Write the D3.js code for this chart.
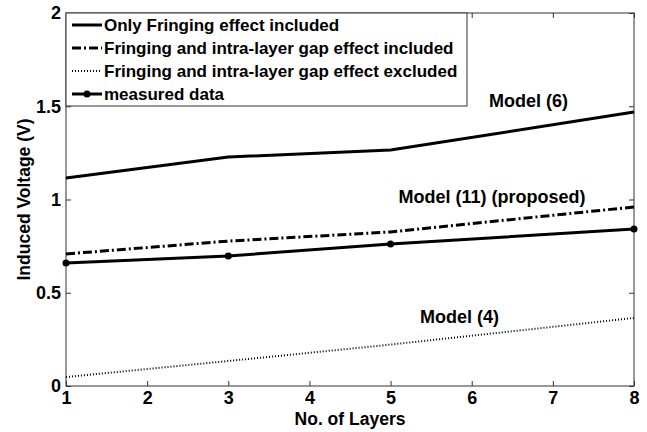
<!DOCTYPE html>
<html>
<head>
<meta charset="utf-8">
<script src="https://cdn.jsdelivr.net/npm/d3@7"></script>
<style>
  body { margin: 0; background: #fff; }
  svg text { font-family: Arial, "Liberation Sans", sans-serif; font-weight: bold; fill: #000; }
</style>
</head>
<body>
<svg id="chart" width="647" height="432"></svg>
<script>
// data
const layers = [1, 3, 5, 8];
const model6 = [1.115, 1.228, 1.265, 1.469];
const model11 = [0.708, 0.777, 0.826, 0.96];
const model4 = [0.048, 0.134, 0.222, 0.365];
const measured = [0.66, 0.697, 0.761, 0.842];
const xTicks = [1, 2, 3, 4, 5, 6, 7, 8];
const yTicks = [0, 0.5, 1, 1.5, 2];
const legendLabels = [
  'Only Fringing effect included',
  'Fringing and intra-layer gap effect included',
  'Fringing and intra-layer gap effect excluded',
  'measured data'
];

const svg = d3.select('#chart');
const m = { left: 66, right: 13, top: 13, bottom: 46 };
const W = 647, H = 432;

const x = d3.scaleLinear().domain([1, 8]).range([m.left, W - m.right]);
const y = d3.scaleLinear().domain([0, 2]).range([H - m.bottom, m.top]);

const series = [
  { key: 'm6', values: model6, width: 3, dash: null },
  { key: 'm11', values: model11, width: 3, dash: '9,3,2,3' },
  { key: 'm4', values: model4, width: 2, dash: '1,2' },
  { key: 'meas', values: measured, width: 3, dash: null, marker: true }
];

const line = d3.line().x(d => x(d.x)).y(d => y(d.y));

// frame
svg.append('rect')
  .attr('x', x(1)).attr('y', y(2))
  .attr('width', x(8) - x(1)).attr('height', y(0) - y(2))
  .attr('fill', 'none').attr('stroke', '#333').attr('stroke-width', 1);

// axes with inward ticks
const tk = 5;
svg.append('g').attr('transform', `translate(0,${y(0)})`)
  .call(d3.axisBottom(x).tickValues(xTicks).tickSize(-tk).tickPadding(5).tickFormat(d3.format('d')))
  .call(g => g.select('.domain').remove());
svg.append('g').attr('transform', `translate(0,${y(2)})`)
  .call(d3.axisTop(x).tickValues(xTicks).tickSize(-tk).tickFormat(''))
  .call(g => g.select('.domain').remove());
svg.append('g').attr('transform', `translate(${x(1)},0)`)
  .call(d3.axisLeft(y).tickValues(yTicks).tickSize(-tk).tickPadding(5).tickFormat(d => d3.format('')(d)))
  .call(g => g.select('.domain').remove());
svg.append('g').attr('transform', `translate(${x(8)},0)`)
  .call(d3.axisRight(y).tickValues(yTicks).tickSize(-tk).tickFormat(''))
  .call(g => g.select('.domain').remove());
svg.selectAll('.tick line').attr('stroke', '#333');
svg.selectAll('.tick text').style('font-size', '18px').style('font-weight', 'bold')
  .style('font-family', 'Arial, "Liberation Sans", sans-serif').attr('fill', '#000');

// lines
series.forEach(s => {
  const pts = layers.map((l, i) => ({ x: l, y: s.values[i] }));
  svg.append('path').datum(pts)
    .attr('d', line)
    .attr('fill', 'none').attr('stroke', '#000')
    .attr('stroke-width', s.width)
    .attr('stroke-dasharray', s.dash);
  if (s.marker) {
    svg.append('g').selectAll('circle').data(pts).join('circle')
      .attr('cx', d => x(d.x)).attr('cy', d => y(d.y)).attr('r', 3.5)
      .attr('fill', '#000');
  }
});

// annotations
const notes = [
  { text: 'Model (6)', xv: 6.7, yv: 1.495 },
  { text: 'Model (11) (proposed)', xv: 6.25, yv: 0.98 },
  { text: 'Model (4)', xv: 5.85, yv: 0.34 }
];
svg.append('g').selectAll('text').data(notes).join('text')
  .attr('x', d => x(d.xv)).attr('y', d => y(d.yv))
  .attr('text-anchor', 'middle').style('font-size', '18px')
  .text(d => d.text);

// axis titles
svg.append('text')
  .attr('x', (x(1) + x(8)) / 2).attr('y', H - 7)
  .attr('text-anchor', 'middle').style('font-size', '17.5px')
  .text('No. of Layers');
svg.append('text')
  .attr('transform', `translate(30,${(y(0) + y(2)) / 2}) rotate(-90)`)
  .attr('text-anchor', 'middle').style('font-size', '17.5px')
  .text('Induced Voltage (V)');

// legend
const lg = svg.append('g');
lg.append('rect')
  .attr('x', x(1)).attr('y', y(2))
  .attr('width', 401).attr('height', 93)
  .attr('fill', '#fff').attr('stroke', '#333').attr('stroke-width', 1);
const item = lg.selectAll('g.item').data(series).join('g')
  .attr('class', 'item')
  .attr('transform', (d, i) => `translate(${x(1)},${y(2) + 12 + i * 23})`);
item.append('line')
  .attr('x1', 6).attr('x2', 36)
  .attr('stroke', '#000').attr('stroke-width', d => d.width)
  .attr('stroke-dasharray', d => d.dash);
item.filter(d => d.marker).append('circle')
  .attr('cx', 21).attr('r', 3.5).attr('fill', '#000');
item.append('text')
  .attr('x', 38).attr('dy', '0.36em')
  .style('font-size', '17px')
  .text((d, i) => legendLabels[i]);
</script>
</body>
</html>
